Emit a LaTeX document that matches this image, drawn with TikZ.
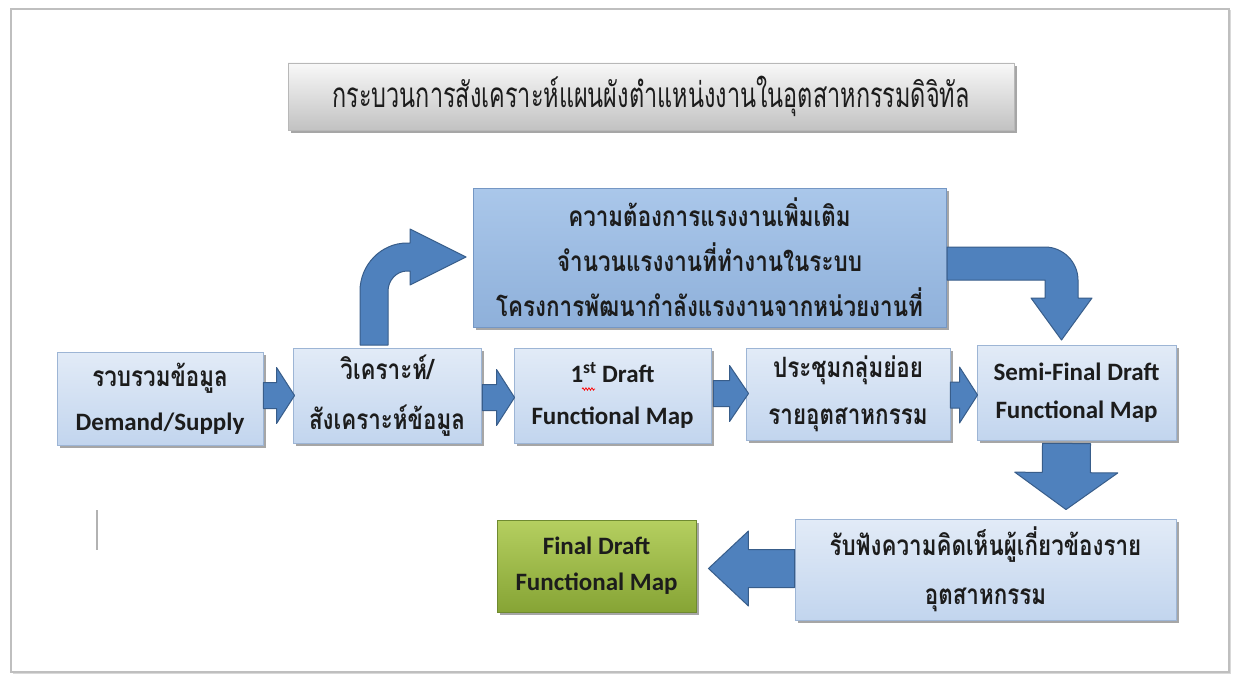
\documentclass[tikz,border=0pt]{standalone}
\usepackage{fontspec}
\usepackage{graphicx}
\setmainfont{Carlito}
\newfontfamily\thai[Script=Thai,FakeStretch=0.8]{Loma}
\newfontfamily\thait[Script=Thai,FakeStretch=0.67]{Loma}
\newfontfamily\lat{Carlito}
\usetikzlibrary{calc,shadows,decorations.pathmorphing}
\definecolor{lbtop}{HTML}{E2EBF7}
\definecolor{lbbot}{HTML}{C2D5EE}
\definecolor{lbedge}{HTML}{9DB5D5}
\definecolor{dbtop}{HTML}{AAC7EA}
\definecolor{dbbot}{HTML}{8EB0DA}
\definecolor{dbedge}{HTML}{7597C4}
\definecolor{gntop}{HTML}{B5CF60}
\definecolor{gnbot}{HTML}{86A435}
\definecolor{gnedge}{HTML}{6F8A30}
\definecolor{arfill}{HTML}{4F81BD}
\definecolor{aredge}{HTML}{385D8A}
\definecolor{ttop}{HTML}{F8F8F8}
\definecolor{tbot}{HTML}{C2C2C2}
\definecolor{tedge}{HTML}{B8B8B8}
\definecolor{txt}{HTML}{1C1C1C}
\newcommand\thb{\thai\bfseries}
\newcommand\blockarr[5]{%
  \coordinate (bah) at ($(#2)!#5!(#1)$);
  \filldraw[barrow] ($(#1)!#3!90:(#2)$) -- ($(bah)!#3!90:(#2)$) -- ($(bah)!#4!90:(#2)$) -- (#2) -- ($(bah)!#4!-90:(#2)$) -- ($(bah)!#3!-90:(#2)$) -- ($(#1)!#3!-90:(#2)$) -- cycle;}
\begin{document}
\begin{tikzpicture}[x=1pt,y=-1pt,
  shad/.style={drop shadow={shadow xshift=2.5pt,shadow yshift=-3pt,opacity=0.35,fill=black}},
  lbox/.style={shad,draw=lbedge,line width=0.9pt,top color=lbtop,bottom color=lbbot,text=txt,align=center,inner sep=0pt},
  dbox/.style={shad,draw=dbedge,line width=0.9pt,top color=dbtop,bottom color=dbbot,text=txt,align=center,inner sep=0pt},
  gbox/.style={shad,draw=gnedge,line width=0.9pt,top color=gntop,bottom color=gnbot,text=txt,align=center,inner sep=0pt},
  tbox/.style={shad,draw=tedge,line width=0.9pt,top color=ttop,bottom color=tbot,text=txt,align=center,inner sep=0pt},
  barrow/.style={fill=arfill,draw=aredge,line width=1pt,line join=round},
  thtext/.style={font=\thb\fontsize{28}{44}\selectfont},
  lttext/.style={font=\lat\bfseries\fontsize{25}{42}\selectfont}]
\useasboundingbox (0,0) rectangle (1233,677);
\fill[white] (0,0) rectangle (1233,677);
% outer frame
\draw[draw=black!25,line width=1.6pt,drop shadow={shadow xshift=1.5pt,shadow yshift=-1.5pt,opacity=0.15,fill=black},fill=white] (11,9) rectangle (1229,672);
% title
\node[tbox,minimum width=726pt,minimum height=67pt] (title) at (651,96.5)
  {\thait\fontsize{35}{40}\selectfont กระบวนการสังเคราะห์แผนผังตำแหน่งงานในอุตสาหกรรมดิจิทัล};
% top box
\node[dbox,thtext,minimum width=473pt,minimum height=139pt,font=\thb\fontsize{28}{45}\selectfont] (top) at (709.5,257.5)
  {ความต้องการแรงงานเพิ่มเติม\\จำนวนแรงงานที่ทำงานในระบบ\\โครงการพัฒนากำลังแรงงานจากหน่วยงานที่};
% row boxes
\node[lbox,thtext,minimum width=206pt,minimum height=93pt] (b1) at (160,398.5)
  {รวบรวมข้อมูล\\{\lat\bfseries\fontsize{25}{44}\selectfont Demand/Supply}};
\node[lbox,thtext,minimum width=188pt,minimum height=95pt,font=\thb\fontsize{28}{50}\selectfont] (b2) at (387,395.5)
  {วิเคราะห์/\\สังเคราะห์ข้อมูล};
\node[lbox,lttext,minimum width=197pt,minimum height=95pt] (b3) at (612.5,395.5)
  {1\textsuperscript{st} Draft\\Functional Map};
\node[lbox,thtext,minimum width=204pt,minimum height=92pt,font=\thb\fontsize{28}{47}\selectfont] (b4) at (848,394)
  {ประชุมกลุ่มย่อย\\รายอุตสาหกรรม};
\node[lbox,lttext,minimum width=199pt,minimum height=95pt,font=\lat\bfseries\fontsize{25}{38}\selectfont] (b5) at (1076.5,392.5)
  {Semi-Final Draft\\Functional Map};
\node[lbox,thtext,minimum width=381pt,minimum height=101pt,font=\thb\fontsize{28}{49}\selectfont] (b6) at (985.5,569.5)
  {รับฟังความคิดเห็นผู้เกี่ยวข้องราย\\อุตสาหกรรม};
\node[gbox,lttext,minimum width=199pt,minimum height=92pt,font=\lat\bfseries\fontsize{25}{36}\selectfont] (fin) at (596.5,566)
  {Final Draft\\Functional Map};
% spell-check squiggle
\draw[red,line width=0.7pt,decorate,decoration={snake,amplitude=1.2pt,segment length=3pt}] (582,389) -- (595,389);
% straight block arrows
\coordinate (a1t) at ($(b1.east)+(0,-3)$);
\coordinate (a1h) at ($(b2.west)+(2,0)$);
\blockarr{a1t}{a1h}{13pt}{28pt}{18pt}
\coordinate (a2t) at ($(b2.east)+(1,2)$);
\coordinate (a2h) at ($(b3.west)+(1,2)$);
\blockarr{a2t}{a2h}{13pt}{28pt}{18pt}
\coordinate (a3t) at ($(b3.east)+(2,-2)$);
\coordinate (a3h) at ($(b4.west)+(3,-0.5)$);
\blockarr{a3t}{a3h}{13pt}{28pt}{19pt}
\coordinate (a4t) at ($(b4.east)+(0,1)$);
\coordinate (a4h) at ($(b5.west)+(1,2.5)$);
\blockarr{a4t}{a4h}{13pt}{28pt}{18pt}
\coordinate (a5t) at ($(b5.south)+(-10,3)$);
\coordinate (a5h) at ($(b6.north)+(80.5,-9)$);
\blockarr{a5t}{a5h}{24pt}{51.5pt}{37pt}
\coordinate (a6t) at ($(b6.west)+(0,-1)$);
\coordinate (a6h) at ($(fin.east)+(12,2.5)$);
\blockarr{a6t}{a6h}{19pt}{37.5pt}{40pt}
% bent arrow up-right (b2 -> top)
\filldraw[barrow] (360,345) -- (360,291) .. controls (360,265) and (381,243) .. (407,243) -- (410,243) -- (410,229) -- (466,257) -- (410,285) -- (410,271) -- (407,271) .. controls (396.5,271) and (388,280.5) .. (388,291) -- (388,345) -- cycle;
% bent arrow right-down (top -> b5)
\filldraw[barrow] (947,247) -- (1045,247) .. controls (1063,247) and (1078,262) .. (1078,280) -- (1078,298) -- (1092,298) -- (1061.5,340) -- (1031,298) -- (1045,298) -- (1045,280) -- (947,280) -- cycle;
% stray cursor mark
\draw[black!30,line width=1.5pt] (97,510) -- (97,550);
\end{tikzpicture}
\end{document}
